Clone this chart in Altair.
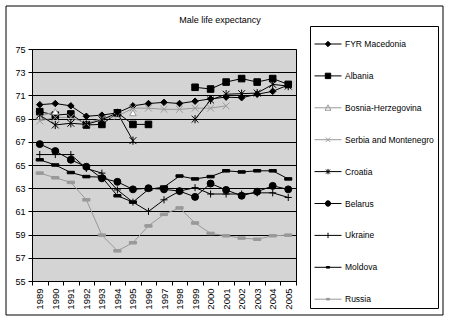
import altair as alt
import pandas as pd

years = [str(y) for y in range(1989, 2006)]
countries = ["FYR Macedonia", "Albania", "Bosnia-Herzegovina", "Serbia and Montenegro",
             "Croatia", "Belarus", "Ukraine", "Moldova", "Russia"]

macedonia = [70.2, 70.3, 70.1, 69.2, 69.3, 69.5, 70.1, 70.3, 70.4, 70.3, 70.5, 70.7, 70.85, 70.8, 71.1, 71.35, 71.9]
albania = [69.6, 69.3, 69.4, 68.45, 68.5, 69.5, 68.5, 68.5, None, None, 71.7, 71.55, 72.15, 72.45, 72.15, 72.45, 71.95]
bosnia = [69.2, 69.6, None, None, None, None, 69.5, None, None, None, None, None, None, None, None, None, None]
serbia = [68.8, 69.1, 69.1, 68.6, 69.0, 69.2, 69.9, 69.9, 69.8, 69.8, 69.9, 69.9, 70.1, None, None, None, None]
croatia = [69.3, 68.45, 68.6, 68.5, 68.9, 69.5, 67.1, None, None, None, 68.95, 70.6, 71.1, 71.15, 71.2, 71.95, 71.8]
belarus = [66.8, 66.2, 65.45, 64.85, 63.85, 63.55, 62.9, 63.0, 62.9, 62.75, 62.25, 63.4, 62.85, 62.35, 62.7, 63.2, 62.9]
ukraine = [65.9, 65.9, 65.9, 64.7, 64.3, 62.85, 61.8, 61.0, 62.0, 62.75, 63.05, 62.5, 62.5, 62.5, 62.6, 62.6, 62.2]
moldova = [65.45, 65.0, 64.35, 64.0, 63.95, 62.35, 61.8, 62.9, 63.1, 64.05, 63.8, 64.0, 64.5, 64.4, 64.5, 64.5, 63.8]
russia = [64.3, 63.9, 63.5, 62.0, 58.95, 57.6, 58.3, 59.75, 60.75, 61.3, 60.0, 59.1, 58.9, 58.7, 58.6, 58.9, 58.95]

series_values = [macedonia, albania, bosnia, serbia, croatia, belarus, ukraine, moldova, russia]

# styles
BLACK = "#000000"
GRAY = "#999999"
line_colors = [BLACK, BLACK, GRAY, GRAY, BLACK, BLACK, BLACK, BLACK, GRAY]
X_PATH = "M-1,-1L1,1M-1,1L1,-1"
AST_PATH = "M-1,-1L1,1M-1,1L1,-1M0,-1.2V1.2"
PLUS_PATH = "M-1,0H1M0,-1V1"
DASH_PATH = "M-1,-0.35H1V0.35H-1Z"
marker_shapes = ["diamond", "square", "triangle-up", X_PATH, AST_PATH, "circle", PLUS_PATH, DASH_PATH, DASH_PATH]
marker_fills = [BLACK, BLACK, "#ffffff", "transparent", "transparent", BLACK, "transparent", BLACK, GRAY]
marker_sizes = [42, 52, 42, 30, 30, 56, 42, 16, 25]

L = "M-1,0H1"
legend_paths = [
    L + "M0,-0.2L0.2,0L0,0.2L-0.2,0Z",
    L + "M-0.2,-0.2H0.2V0.2H-0.2Z",
    L + "M0,-0.22L0.22,0.18L-0.22,0.18Z",
    L + "M-0.17,-0.17L0.17,0.17M-0.17,0.17L0.17,-0.17",
    L + "M-0.15,-0.15L0.15,0.15M-0.15,0.15L0.15,-0.15M0,-0.2V0.2",
    L + "M0.2,0A0.2,0.2 0 1,1 -0.2,0A0.2,0.2 0 1,1 0.2,0Z",
    L + "M0,-0.2V0.2",
    L + "M-0.12,-0.06H0.12V0.06H-0.12Z",
    L + "M-0.12,-0.06H0.12V0.06H-0.12Z",
]

rows = []
for c, vals in zip(countries, series_values):
    seg = 0
    prev_none = True
    for y, v in zip(years, vals):
        if v is None:
            prev_none = True
            continue
        if prev_none:
            seg += 1
            prev_none = False
        rows.append({"country": c, "series": c, "year": y, "value": v, "seg": f"{c}-{seg}"})
df = pd.DataFrame(rows)

FONT = "Liberation Sans"

x_enc = alt.X(
    "year:O",
    scale=alt.Scale(type="band", domain=years, paddingInner=0, paddingOuter=0),
    bandPosition=0.5,
    axis=alt.Axis(labelAngle=-90, labelAlign="right", labelBaseline="middle", tickBand="extent",
                  grid=False, domainColor="black", tickColor="black", tickSize=4,
                  labelFont=FONT, labelFontSize=9.5, labelColor="black", labelPadding=3, title=None),
)
y_enc = alt.Y(
    "value:Q",
    scale=alt.Scale(domain=[55, 75], nice=False, zero=False),
    axis=alt.Axis(values=list(range(55, 76, 2)), grid=True, gridColor="black", gridWidth=1,
                  domainColor="black", tickColor="black", tickSize=4, labelFont=FONT,
                  labelFontSize=9, labelColor="black", labelPadding=3, title=None),
)

base = alt.Chart(df)

lines = base.mark_line(strokeWidth=1).encode(
    x=x_enc, y=y_enc,
    stroke=alt.Stroke("country:N", scale=alt.Scale(domain=countries, range=line_colors), legend=None),
    detail="seg:N",
)

points = base.mark_point(filled=False, opacity=1, strokeWidth=1).encode(
    x=x_enc, y=y_enc,
    shape=alt.Shape("country:N", scale=alt.Scale(domain=countries, range=marker_shapes), legend=None),
    stroke=alt.Stroke("country:N", scale=alt.Scale(domain=countries, range=line_colors), legend=None),
    fill=alt.Fill("country:N", scale=alt.Scale(domain=countries, range=marker_fills), legend=None),
    size=alt.Size("country:N", scale=alt.Scale(domain=countries, range=marker_sizes), legend=None),
)

leg = alt.Legend(
    title=None, orient="none", legendX=278, legendY=-23, direction="vertical",
    strokeColor="black", fillColor="white", padding=4, symbolSize=729, symbolStrokeWidth=1,
    labelFont=FONT, labelFontSize=8.5, labelColor="black", labelOffset=3, rowPadding=12.9,
    symbolOpacity=1, labelLimit=200,
)
legend_layer = base.transform_filter("false").mark_point(filled=False, opacity=1).encode(
    x=x_enc, y=y_enc,
    shape=alt.Shape("series:N", scale=alt.Scale(domain=countries, range=legend_paths), legend=leg, sort=None),
    stroke=alt.Stroke("series:N", scale=alt.Scale(domain=countries, range=line_colors), legend=leg, sort=None),
    fill=alt.Fill("series:N", scale=alt.Scale(domain=countries, range=marker_fills), legend=leg, sort=None),
)

frame = alt.Chart(alt.Data(values=[{}])).mark_rect(fill="transparent", stroke="black", strokeWidth=1).encode(
    x=alt.value(-26), x2=alt.value(411), y=alt.value(-43), y2=alt.value(266)
)

chart = alt.layer(frame, lines, points, legend_layer).resolve_scale(
    shape="independent", stroke="independent", fill="independent", size="independent"
).properties(
    width=264, height=232,
    autosize=alt.AutoSizeParams(type="none"),
    padding={"left": 32, "top": 49, "right": 154, "bottom": 40},
    title=alt.Title("Male life expectancy", anchor="middle", frame="group", dx=56, offset=-19,
                    fontSize=9, fontWeight="normal", font=FONT, color="black"),
    background="white",
).configure_view(fill="#D4D4D4", stroke="black", strokeWidth=1)

chart.save("out.html", embed_options={"renderer": "svg", "actions": False})
